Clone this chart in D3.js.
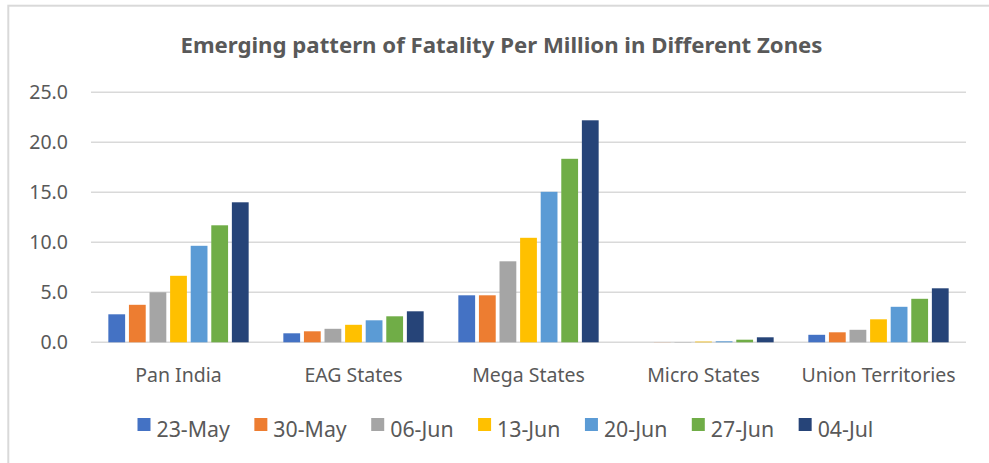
<!DOCTYPE html>
<html>
<head>
<meta charset="utf-8">
<script src="https://cdn.jsdelivr.net/npm/d3@7"></script>
<style>
  html, body { margin: 0; padding: 0; background: #fff; }
  svg { display: block; }
  text { font-family: "Noto Sans", "Open Sans", sans-serif; fill: #595959; }
</style>
</head>
<body>
<svg id="chart" width="989" height="463"></svg>
<script>
// ---- Data ----
const categories = ["Pan India", "EAG States", "Mega States", "Micro States", "Union Territories"];
const seriesNames = ["23-May", "30-May", "06-Jun", "13-Jun", "20-Jun", "27-Jun", "04-Jul"];
const s23May = [2.8, 0.9, 4.7, 0.0, 0.75];
const s30May = [3.75, 1.1, 4.7, 0.01, 1.0];
const s06Jun = [5.0, 1.35, 8.1, 0.03, 1.25];
const s13Jun = [6.65, 1.75, 10.45, 0.07, 2.3];
const s20Jun = [9.65, 2.2, 15.05, 0.1, 3.55];
const s27Jun = [11.7, 2.6, 18.35, 0.26, 4.35];
const s04Jul = [14.0, 3.1, 22.2, 0.5, 5.4];
const seriesValues = [s23May, s30May, s06Jun, s13Jun, s20Jun, s27Jun, s04Jul];
const yTicks = [0, 5, 10, 15, 20, 25];
const titleText = "Emerging pattern of Fatality Per Million in Different Zones";

// ---- Styles ----
const colors = ["#4472C4", "#ED7D31", "#A5A5A5", "#FFC000", "#5B9BD5", "#70AD47", "#264478"];

const svg = d3.select("#chart");

// outer chart border (only top/left visible)
svg.append("rect")
  .attr("x", 8.3).attr("y", 5.7).attr("width", 1200).attr("height", 1000)
  .attr("fill", "none").attr("stroke", "#D9D9D9").attr("stroke-width", 2);

const plot = { left: 91, right: 966, top: 92.3, bottom: 342.3 };

const x0 = d3.scaleBand().domain(categories).range([plot.left, plot.right]).paddingInner(0).paddingOuter(0);
const catW = x0.bandwidth();
const slot = catW / (seriesNames.length + 1.5);
const x1 = d3.scaleBand().domain(seriesNames)
  .range([(catW - slot * seriesNames.length) / 2, (catW + slot * seriesNames.length) / 2]);
const y = d3.scaleLinear().domain([0, 25]).range([plot.bottom, plot.top]);

// gridlines
svg.append("g").selectAll("line").data(yTicks).join("line")
  .attr("x1", plot.left).attr("x2", plot.right)
  .attr("y1", d => y(d)).attr("y2", d => y(d))
  .attr("stroke", "#D9D9D9").attr("stroke-width", 1.5);

// y axis labels
const yAxis = d3.axisLeft(y).tickValues(yTicks).tickFormat(d3.format(".1f")).tickSize(0).tickPadding(0);
const gy = svg.append("g").attr("transform", `translate(68,0)`).call(yAxis);
gy.select(".domain").remove();
gy.selectAll("text").attr("font-size", "19.5px").attr("fill", "#595959")
  .style("font-family", '"Noto Sans", sans-serif');

// bars
const groups = svg.append("g").selectAll("g").data(categories).join("g")
  .attr("transform", d => `translate(${x0(d)},0)`);
groups.selectAll("rect").data((c, ci) => seriesNames.map((s, si) => ({ s, si, v: seriesValues[si][ci] })))
  .join("rect")
  .attr("x", d => x1(d.s) + 1.9)
  .attr("width", x1.bandwidth() - 3.8)
  .attr("y", d => y(d.v))
  .attr("height", d => Math.max(0, y(0) - y(d.v)))
  .attr("fill", d => colors[d.si]);

// x axis labels
const xAxis = d3.axisBottom(x0).tickSize(0).tickPadding(0);
const gx = svg.append("g").attr("transform", `translate(0,${plot.bottom})`).call(xAxis);
gx.select(".domain").remove();
gx.selectAll("text").attr("font-size", "19.5px").attr("fill", "#595959")
  .attr("dy", null).attr("y", 40)
  .style("font-family", '"Noto Sans", sans-serif');

// title
svg.append("text").attr("x", 501.5).attr("y", 53).attr("text-anchor", "middle")
  .attr("font-size", "22.2px").attr("font-weight", "bold").attr("fill", "#595959")
  .text(titleText);

// legend
const legend = svg.append("g");
let lx = 137.5;
seriesNames.forEach((s, i) => {
  const g = legend.append("g");
  g.append("rect").attr("x", lx).attr("y", 418).attr("width", 13).attr("height", 13).attr("fill", colors[i]);
  const t = g.append("text").attr("x", lx + 19).attr("y", 436.5).attr("font-size", "21.3px").text(s);
  const w = t.node().getComputedTextLength();
  lx = lx + 19 + w + 24.5;
});
</script>
</body>
</html>
